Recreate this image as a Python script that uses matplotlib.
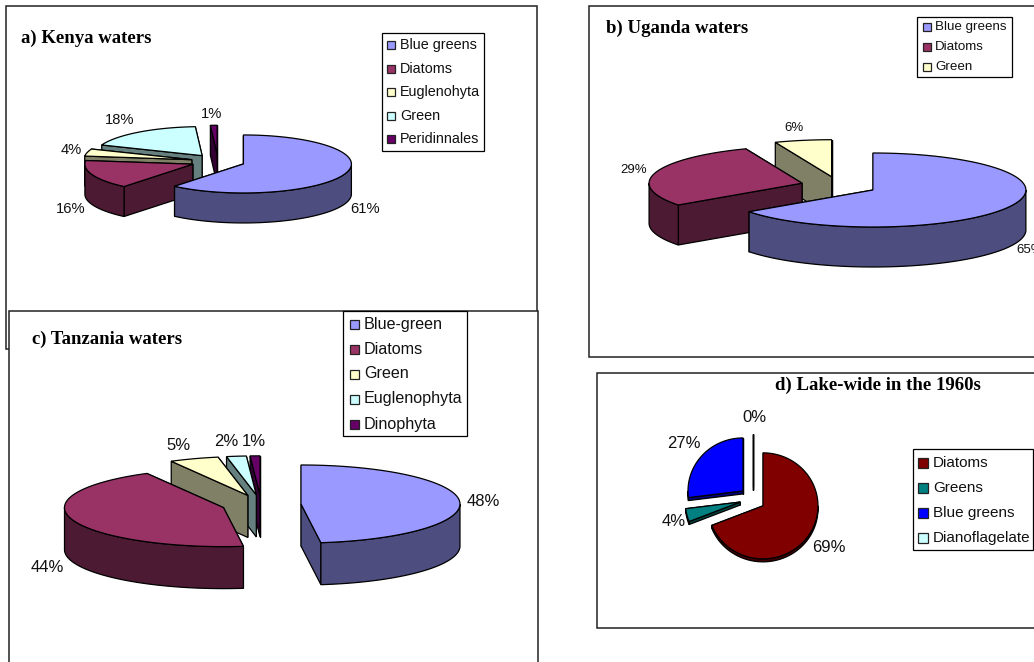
import matplotlib
matplotlib.use('Agg')
import matplotlib.pyplot as plt
from matplotlib.colors import to_rgb
from matplotlib.patches import Polygon, Rectangle
import numpy as np

kenya_names = ['Blue greens', 'Diatoms', 'Euglenohyta', 'Green', 'Peridinnales']
kenya_values = [61, 16, 4, 18, 1]
uganda_names = ['Blue greens', 'Diatoms', 'Green']
uganda_values = [65, 29, 6]
tanzania_names = ['Blue-green', 'Diatoms', 'Green', 'Euglenophyta', 'Dinophyta']
tanzania_values = [48, 44, 5, 2, 1]
lake_names = ['Diatoms', 'Greens', 'Blue greens', 'Dianoflagelate']
lake_values = [69, 4, 27, 0]

excel_colors = ['#9999FF', '#993366', '#FFFFCC', '#CCFFFF', '#660066']
lake_colors = ['#800000', '#008080', '#0000FF', '#CCFFFF']

SANS = 'Liberation Sans'
SERIF = 'Liberation Serif'
LW = 0.9

fig = plt.figure(figsize=(10.34, 6.62), dpi=100)
# one full-figure axes in pixel units, y pointing down
ax = fig.add_axes([0, 0, 1, 1])
ax.set_xlim(0, 1034)
ax.set_ylim(662, 0)
ax.axis('off')


def frame(x0, y0, x1, y1, z):
    ax.add_patch(Rectangle((x0, y0), x1 - x0, y1 - y0, fc='white', ec='#222222', lw=1.1, zorder=z))


def darker(color):
    return tuple(c * 0.5 for c in to_rgb(color))


def arc(ox, oy, rx, ry, a0, a1):
    # angles run clockwise from north, in degrees
    t = np.radians(np.linspace(a0, a1, max(int(abs(a1 - a0)) * 2, 2)))
    return np.column_stack([ox + rx * np.sin(t), oy - ry * np.cos(t)])


def pie3d(values, colors, cx, cy, rx, ry, depth, explode, z):
    total = sum(values)
    edges = np.cumsum([0] + list(values)) * 360.0 / total
    # last series at the back, first series painted on top
    for i in reversed(range(len(values))):
        a0, a1 = edges[i], edges[i + 1]
        mid = np.radians((a0 + a1) / 2)
        ox = cx + rx * explode * np.sin(mid)
        oy = cy - ry * explode * np.cos(mid)
        top = colors[i]
        side = darker(top)
        style = dict(ec='black', lw=LW, joinstyle='miter', zorder=z)

        # the cut face further back goes first so the nearer one hides it
        ends = [arc(ox, oy, rx, ry, a, a)[0] for a in (a0, a1)]
        ends.sort(key=lambda p: p[1])
        for e in ends:
            quad = [(ox, oy), e, (e[0], e[1] + depth), (ox, oy + depth)]
            ax.add_patch(Polygon(quad, closed=True, fc=side, **style))

        w0, w1 = max(a0, 90), min(a1, 270)
        if w1 > w0:
            upper = arc(ox, oy, rx, ry, w0, w1)
            lower = upper[::-1] + [0, depth]
            ax.add_patch(Polygon(np.vstack([upper, lower]), closed=True, fc=side, **style))

        face = np.vstack([[(ox, oy)], arc(ox, oy, rx, ry, a0, a1)])
        ax.add_patch(Polygon(face, closed=True, fc=top, **style))


def pct_labels(values, spots, size, z):
    for v, (x, y) in zip(values, spots):
        ax.text(x, y, f'{v}%', fontsize=size, family=SANS, ha='center', va='center',
                color='#111111', zorder=z)


def legend_box(names, colors, box, rows, swatch_x, swatch, text_x, size, z):
    x0, y0, x1, y1 = box
    ax.add_patch(Rectangle((x0, y0), x1 - x0, y1 - y0, fc='white', ec='black', lw=LW, zorder=z))
    for name, color, y in zip(names, colors, rows):
        ax.add_patch(Rectangle((swatch_x, y - swatch / 2), swatch, swatch, fc=color,
                               ec='#222222', lw=LW, zorder=z))
        ax.text(text_x, y, name, fontsize=size, family=SANS, va='center', color='#111111', zorder=z)


def title(x, y, s, z, ha='left'):
    ax.text(x, y, s, fontsize=13.5, family=SERIF, weight='bold', ha=ha, va='center', zorder=z)


# a) Kenya
frame(5.5, 6, 537, 349, 1)
pie3d(kenya_values, excel_colors, 218, 161.5, 108, 29, 30, 0.25, 2)
pct_labels(kenya_values, [(365, 209), (71, 209), (71, 150), (120, 120), (212, 114)], 10.6, 2)
legend_box(kenya_names, excel_colors, (381.5, 32.5, 483.5, 151), [45, 69, 92, 116, 139], 387, 8, 400, 10.4, 2)
title(21, 38, 'a) Kenya waters', 2)

# b) Uganda
frame(589, 6, 1045, 357, 1)
pie3d(uganda_values, excel_colors, 838.8, 185.8, 153, 37, 40, 0.25, 2)
pct_labels(uganda_values[1:], [(634, 170), (794, 128)], 9.5, 2)
ax.text(1016, 250, f'{uganda_values[0]}%', fontsize=9.5, family=SANS, ha='left', va='center',
        color='#111111', zorder=2, clip_on=False)
legend_box(uganda_names, excel_colors, (917.3, 16.7, 1011.7, 77.3), [27, 47, 67], 923, 8, 935, 9.6, 2)
title(606, 28, 'b) Uganda waters', 2)

# c) Tanzania, its frame overlaps the Kenya one
frame(9, 310.5, 538, 680, 3)
pie3d(tanzania_values, excel_colors, 261.3, 504.6, 159, 39, 42, 0.25, 3)
pct_labels(tanzania_values, [(483, 501), (47, 567), (178, 445), (226, 442), (254, 442)], 12, 3)
legend_box(tanzania_names, excel_colors, (343, 310.5, 467, 436), [324, 349, 374, 399, 424], 350, 9, 364, 11.6, 3)
title(32, 339, 'c) Tanzania waters', 3)

# d) Lake-wide
frame(597, 373, 1045, 628, 1)
pie3d(lake_values, lake_colors, 752.5, 499, 55, 53, 3, 0.23, 2)
pct_labels(lake_values, [(829, 547), (674, 522), (684, 444), (754, 417)], 12, 2)
legend_box(lake_names, lake_colors, (913.3, 449.3, 1032.7, 550.3), [463, 488, 513, 538], 918, 10, 933, 11, 2)
title(878, 385, 'd) Lake-wide in the 1960s', 2, ha='center')

fig.savefig('out.png', dpi=100)
